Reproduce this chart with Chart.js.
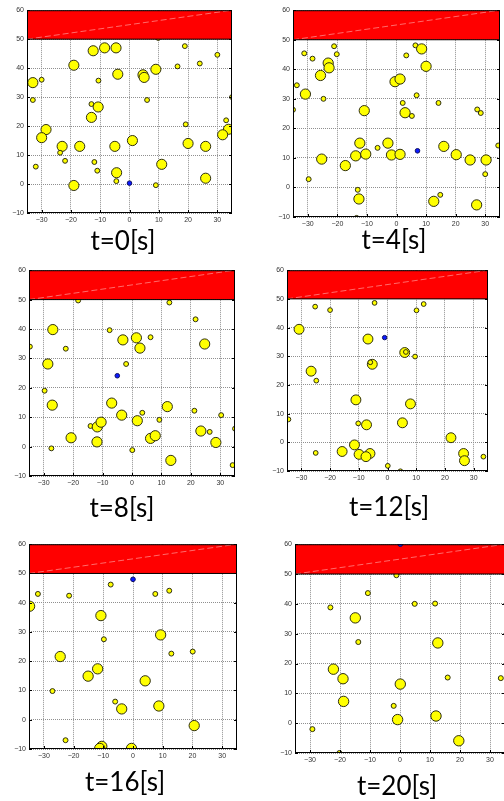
<!DOCTYPE html>
<html lang="en">
<head>
<meta charset="UTF-8">
<title>Particle positions</title>
<script src="https://cdn.jsdelivr.net/npm/chart.js"></script>
<style>
  html, body { margin: 0; padding: 0; background: #fff; overflow: hidden; }
  body { width: 504px; height: 801px; position: relative; }
  .panel { position: absolute; }
  .caption {
    position: absolute;
    font-family: Lato, "Open Sans", sans-serif;
    font-size: 26px;
    line-height: 1;
    color: #000;
    white-space: nowrap;
    transform: translateX(-50%);
  }
</style>
</head>
<body>
<script>
// axes
const xTicks = [-30, -20, -10, 0, 10, 20, 30];
const yTicks = [-10, 0, 10, 20, 30, 40, 50, 60];
const xMin = -35, xMax = 35;
const yMin = -10, yMax = 60;
const wallBottom = 50, wallTop = 60;
const times = [0, 4, 8, 12, 16, 20];

// particle radii (axis units)
const S = 1, L = 1.9;

// t = 0
const x0 = [-33, -30, -33, -28.5, -30, -32, -23, -23.7, -22, -19, -19, -17, -12.4, -8.5, -4.6, -10.6, -4, -13, -10.7, -13, -12, -11, -5, -4.4, -4.5, 1, 4.6, 5, 6, 9, 9.8, 9, 11, 16.4, 18.9, 19.2, 20, 24, 26, 26, 30, 33, 33.8, 31.8, 35];
const y0 = [35, 36, 29, 18.8, 16, 6, 13, 10.8, 8, 41, -0.5, 13, 46, 47, 47, 35.7, 37.9, 27.6, 26.6, 23, 7.6, 4.6, 13, 3.9, 1, 15, 37.7, 36.8, 29, 39.6, 50.4, -0.4, 6.8, 40.6, 47.6, 20.6, 14, 41.6, 13, 2, 44.6, 22, 18.9, 17, 30];
const r0 = [L, S, S, L, L, S, L, S, S, L, L, L, L, L, L, S, L, S, L, L, S, S, L, L, S, L, L, L, S, L, S, S, L, S, S, S, L, S, L, L, S, S, L, L, S];

// t = 4
const x4 = [-31.2, -28.4, -21.1, -20.2, -23.1, -22.8, -25.7, -33.7, -30.8, -24.7, -35, -10.9, -12.4, -13.8, -10.4, -6.4, -17.3, -25.3, -29.7, -13.1, -12.7, -13.5, -2.9, -1.7, 1.2, -0.5, 1.2, 3.3, 6.4, 8.5, 10, 2.1, 2.9, 5.2, 6.8, 14.2, 16, 20.2, 24.9, 30.3, 30, 34.4, 27.3, 28.5, 12.6, 14.8, 27.1];
const y4 = [45.4, 43.6, 47.8, 45.1, 42.1, 40.5, 37.9, 34.6, 31.6, 30, 26.3, 26, 15, 10.7, 11.3, 13.4, 7.4, 9.6, 2.8, -0.8, -3.9, -10.3, 15, 11, 11.2, 35.8, 36.7, 44.7, 48.1, 46.9, 41, 28.6, 25.3, 24.2, 31.2, 28.6, 13.9, 11.1, 9.3, 9.3, 4.5, 14.2, 26.4, 25.2, -4.7, -2.5, -5.9];
const r4 = [S, S, S, S, L, L, L, S, L, S, S, L, L, L, L, S, L, L, S, S, L, S, L, L, L, L, L, S, S, L, L, S, L, S, S, S, L, L, L, L, S, S, S, S, L, S, L];

// t = 8
const x8 = [-34.7, -26.9, -22.5, -18.3, -28.6, -29.7, -27.1, -27.4, -20.7, -14.1, -11.8, -10.5, -11.9, -7.6, -3.1, 1.5, 2.7, 6.3, 12.7, 21.6, 24.7, -2, -6.9, -3.5, 1.8, 3.5, 0.1, 6.3, 7.9, 9.3, 12, 13.2, 21.2, 23.4, 26.4, 28.5, 30.3, 34.2, 35];
const y8 = [34, 39.8, 33.3, 49.7, 28.1, 19, 14.1, -0.6, 3, 7, 6.7, 8.3, 1.6, 39.6, 36.3, 37, 33.5, 37.2, 49, 43.3, 34.9, 28.1, 14.8, 10.7, 8.8, 11.5, -1.2, 2.8, 3.7, 9.1, 13.6, -4.7, 12.2, 5.3, 5, 1.4, 10.7, -6.3, 6.1];
const r8 = [S, L, S, S, L, S, L, S, L, S, L, L, L, S, L, L, L, S, S, S, L, S, L, L, L, S, S, L, L, S, L, L, S, L, S, L, S, S, S];

// t = 12
const x12 = [-25.2, -20, -4.5, 10.1, 12.6, -30.8, -6.8, 6, 6.4, 9.6, -5.3, -6, -26.6, -24.8, -11, 8, -34.5, -10.2, -7.3, 5.2, 22.1, -11.5, -15.8, -9.9, -6.1, -7.5, -25, 26.5, 26.8, 33.4, 0.1, 4.5];
const y12 = [47.3, 46.1, 48.6, 46, 48.2, 39.4, 36, 31.3, 31.5, 29.9, 27.2, 27.9, 24.8, 21.5, 14.8, 13.4, 8, 6.6, 6.1, 6.8, 1.6, -0.9, -3.2, -4.2, -3.9, -5, -3.7, -3.9, -6.4, -5, -8.2, -10.1];
const r12 = [S, S, S, S, S, L, L, L, S, S, L, S, L, S, L, L, S, S, L, L, L, L, L, L, L, L, S, L, L, S, S, S];

// t = 16
const x16 = [-7.5, 7.5, 12.2, -32, -21.5, -34.8, -10.8, -9.8, 9.3, 12.9, 20.1, -24.5, -11.9, -15.1, 4.1, -27.1, -6, -3.8, 8.7, 20.6, -22.7, -10.5, -11.2, -0.5];
const y16 = [46.2, 43, 44.1, 43, 42.4, 38.8, 35.6, 27.5, 29, 22.6, 23.3, 21.6, 17.4, 14.9, 13.3, 9.8, 6.2, 3.7, 4.7, -2, -7, -9.1, -9.8, -9.8];
const r16 = [S, S, S, S, S, L, L, S, L, S, S, L, L, L, L, S, S, L, L, L, S, L, L, L];

// t = 20
const x20 = [-1.2, -10.7, -23.2, 4.9, 11.7, -14.9, -13.9, 12.6, -22.2, -19, 0.1, 15.9, 33.6, -18.8, -2.1, -0.8, 12, -29.2, 19.6, -20.2];
const y20 = [49.6, 43.6, 38.8, 40, 40.1, 35.3, 27.2, 26.9, 18.1, 14.9, 13.1, 15.3, 15.1, 7.3, 5.8, 1.2, 2.4, -2, -5.9, -10];
const r20 = [S, S, S, S, S, L, S, L, L, L, L, S, S, L, S, L, L, S, L, S];

// tracked particle (blue)
const blueX = [0, 7.1, -5, -1, 0, 0.1];
const blueY = [0.3, 12.4, 24.1, 36.5, 48, 60];
const blueR = 0.95;

const frames = [
  [x0, y0, r0], [x4, y4, r4], [x8, y8, r8],
  [x12, y12, r12], [x16, y16, r16], [x20, y20, r20]
];

// plot area of each panel on the page: left, top, width, height
const boxes = [
  { l: 27, t: 10, w: 205, h: 204 },
  { l: 293, t: 10, w: 207, h: 208 },
  { l: 29, t: 270, w: 206, h: 207 },
  { l: 287, t: 270, w: 201, h: 202 },
  { l: 29, t: 544, w: 208, h: 206 },
  { l: 295, t: 544, w: 210, h: 210 }
];
const captionPos = [
  { x: 123, y: 227 }, { x: 394, y: 226 },
  { x: 122, y: 494 }, { x: 389, y: 493 },
  { x: 125, y: 768 }, { x: 397, y: 772 }
];

const Y_AXIS_W = 26, X_AXIS_H = 14, PAD_TOP = 6, PAD_RIGHT = 2;

function minus(v) {
  return String(v).replace('-', '\u2212');
}

function pxRadius(chart, r) {
  const sx = chart.scales.x;
  return Math.abs(sx.getPixelForValue(r) - sx.getPixelForValue(0));
}

// black frame with short inward ticks
const framePlugin = {
  id: 'frame',
  afterDatasetsDraw(chart) {
    const { ctx, chartArea: a, scales: { x, y } } = chart;
    ctx.save();
    ctx.strokeStyle = '#000';
    ctx.lineWidth = 1;
    ctx.beginPath();
    xTicks.forEach(v => {
      const px = Math.round(x.getPixelForValue(v)) + 0.5;
      ctx.moveTo(px, a.bottom);
      ctx.lineTo(px, a.bottom - 3);
    });
    yTicks.forEach(v => {
      const py = Math.round(y.getPixelForValue(v)) + 0.5;
      ctx.moveTo(a.left, py);
      ctx.lineTo(a.left + 3, py);
      ctx.moveTo(a.right, py);
      ctx.lineTo(a.right - 3, py);
    });
    ctx.stroke();
    ctx.strokeRect(a.left + 0.5, a.top + 0.5, a.right - a.left - 1, a.bottom - a.top - 1);
    ctx.restore();
  }
};

function makePanel(i) {
  const [xs, ys, rs] = frames[i];
  const box = boxes[i];
  const wrap = document.createElement('div');
  wrap.className = 'panel';
  const cw = box.w + Y_AXIS_W + PAD_RIGHT;
  const ch = box.h + PAD_TOP + X_AXIS_H;
  wrap.style.left = (box.l - Y_AXIS_W) + 'px';
  wrap.style.top = (box.t - PAD_TOP) + 'px';
  const canvas = document.createElement('canvas');
  canvas.width = cw;
  canvas.height = ch;
  wrap.appendChild(canvas);
  document.body.appendChild(wrap);

  const points = xs.map((x, k) => ({ x: x, y: ys[k], size: rs[k] }));

  const chart = new Chart(canvas, {
    type: 'scatter',
    data: {
      datasets: [
        {
          label: 'particles',
          data: points,
          order: 5,
          clip: 0,
          backgroundColor: '#ffff00',
          borderColor: '#2e2e10',
          borderWidth: 1,
          pointRadius: c => c.raw ? pxRadius(c.chart, c.raw.size) - 0.5 : 3,
          pointHoverRadius: c => c.raw ? pxRadius(c.chart, c.raw.size) - 0.5 : 3
        },
        {
          type: 'line',
          label: 'wall',
          data: [{ x: xMin, y: wallTop }, { x: xMax, y: wallTop }],
          order: 4,
          clip: 0,
          fill: { value: wallBottom },
          backgroundColor: '#ff0000',
          borderWidth: 0,
          pointRadius: 0
        },
        {
          type: 'line',
          label: 'wall edge',
          data: [{ x: xMin, y: wallBottom }, { x: xMax, y: wallBottom }],
          order: 3,
          clip: 0,
          borderColor: '#000',
          borderWidth: 1,
          pointRadius: 0
        },
        {
          type: 'line',
          label: 'wall diagonal',
          data: [{ x: xMin, y: wallBottom }, { x: xMax, y: wallTop }],
          order: 3,
          clip: 0,
          borderColor: 'rgba(255, 190, 190, 0.8)',
          borderWidth: 0.7,
          borderDash: [6, 3],
          pointRadius: 0
        },
        {
          label: 'tracked',
          data: [{ x: blueX[i], y: blueY[i], size: blueR }],
          order: 1,
          clip: 0,
          backgroundColor: '#0a1aff',
          borderColor: '#101060',
          borderWidth: 1,
          pointRadius: c => pxRadius(c.chart, blueR) - 0.5,
          pointHoverRadius: c => pxRadius(c.chart, blueR) - 0.5
        }
      ]
    },
    options: {
      responsive: false,
      animation: false,
      events: [],
      layout: { padding: { top: PAD_TOP, right: PAD_RIGHT, left: 0, bottom: 0 } },
      plugins: { legend: { display: false }, tooltip: { enabled: false } },
      scales: {
        x: {
          type: 'linear',
          min: xMin,
          max: xMax,
          afterBuildTicks: s => { s.ticks = xTicks.map(v => ({ value: v })); },
          afterFit: s => { s.height = X_AXIS_H; },
          grid: { color: '#8f8f8f', lineWidth: 1, drawTicks: false },
          border: { display: false, dash: [1, 1] },
          ticks: {
            padding: 3,
            color: '#333',
            font: { family: 'Liberation Sans', size: 7 },
            callback: v => minus(v)
          }
        },
        y: {
          type: 'linear',
          min: yMin,
          max: yMax,
          afterBuildTicks: s => { s.ticks = yTicks.map(v => ({ value: v })); },
          afterFit: s => { s.width = Y_AXIS_W; },
          grid: { color: '#8f8f8f', lineWidth: 1, drawTicks: false },
          border: { display: false, dash: [1, 1] },
          ticks: {
            padding: 3,
            color: '#333',
            font: { family: 'Liberation Sans', size: 7 },
            callback: v => minus(v)
          }
        }
      }
    },
    plugins: [framePlugin]
  });

  // keep the plot area where it belongs on the page
  const a = chart.chartArea;
  wrap.style.left = (box.l - a.left) + 'px';
  wrap.style.top = (box.t - a.top) + 'px';

  const cap = document.createElement('div');
  cap.className = 'caption';
  cap.textContent = 't=' + times[i] + '[s]';
  cap.style.left = captionPos[i].x + 'px';
  cap.style.top = captionPos[i].y + 'px';
  document.body.appendChild(cap);
}

document.addEventListener('DOMContentLoaded', () => {
  for (let i = 0; i < frames.length; i++) makePanel(i);
});
</script>
</body>
</html>
